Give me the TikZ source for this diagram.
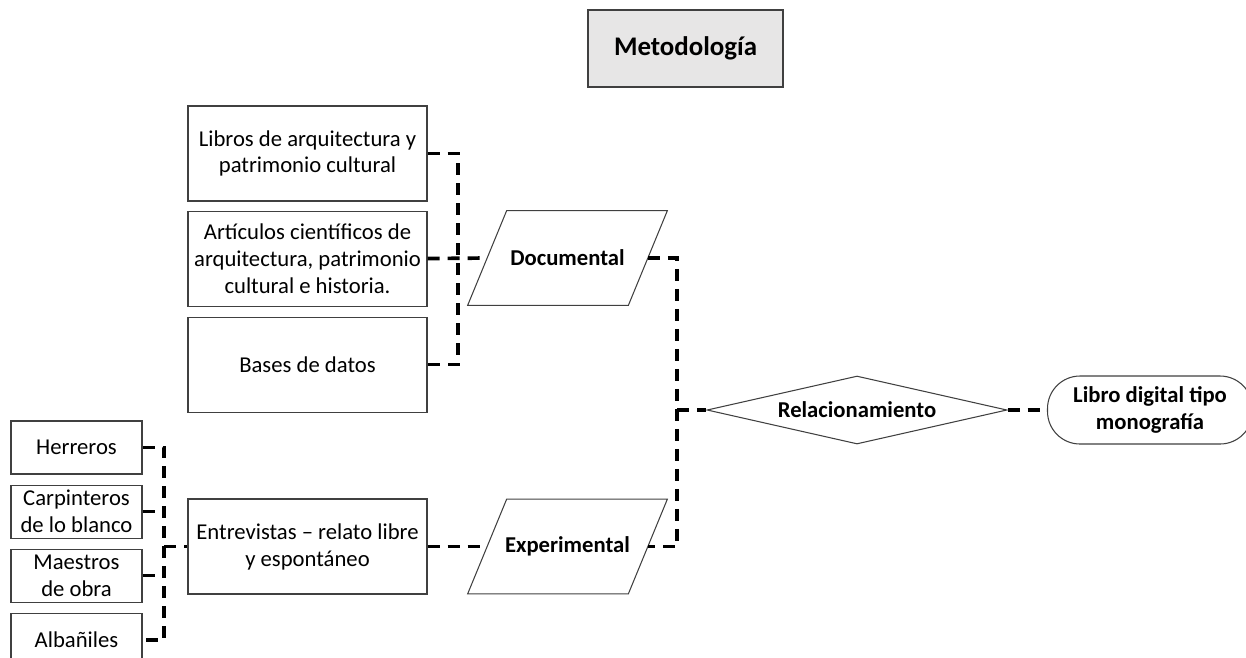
\documentclass[tikz,border=0pt]{standalone}
\usepackage{fontspec}
\setmainfont{Carlito}
\usepackage{tikz}
\usetikzlibrary{positioning,shapes.geometric,calc}
\definecolor{borde}{RGB}{64,64,64}
\definecolor{gristit}{RGB}{231,230,230}

\begin{document}
\begin{tikzpicture}[
      x=0.2mm, y=-0.2mm,
      font=\fontsize{12.9}{15.3}\selectfont,
      caja/.style={draw=borde, line width=0.6pt, fill=white, align=center, inner sep=1pt},
      fuente/.style={caja, minimum width=47.8mm, minimum height=19mm},
      oficio/.style={caja, minimum width=26.2mm, minimum height=10.6mm},
      tipo/.style={align=center, minimum width=32mm, minimum height=18.8mm,
                   font=\fontsize{12.9}{15.3}\selectfont\bfseries},
      enlace/.style={line width=2.1pt, dash pattern=on 2.4mm off 1.6mm},
]

\useasboundingbox (0,0) rectangle (1246,657);
\clip (0,0) rectangle (1246,657);

\node[caja, fill=gristit, minimum width=39mm, minimum height=15.4mm,
      font=\fontsize{15.3}{18}\selectfont\bfseries] (titulo) at (685.5,48.5) {Metodología};

% fuentes documentales
\node[fuente] (libros) at (307.5,153.5) {Libros de arquitectura y\\patrimonio cultural};
\node[fuente, below=1.8mm of libros] (articulos) {Artículos científicos de\\arquitectura, patrimonio\\cultural e historia.};
\node[fuente, below=2mm of articulos] (bases) {Bases de datos};

\node[tipo] (documental) at (567.5,258) {Documental};
\coordinate (docbus) at (458,258);

% oficios
\node[oficio] (herreros) at (76.5,447.5) {Herreros};
\node[oficio, below=2mm of herreros] (carpinteros) {Carpinteros\\de lo blanco};
\node[oficio, below=2mm of carpinteros] (maestros) {Maestros\\de obra};
\node[oficio, below=2mm of maestros] (albaniles) {Albañiles};

\node[fuente] (entrevistas) at (307.5,546.5) {Entrevistas – relato libre\\y espontáneo};
\node[tipo] (experimental) at (567.5,546.5) {Experimental};
\coordinate (ofbus) at (164,546.5);

% paralelogramos
\foreach \t in {documental, experimental}
  \draw[draw=borde, line width=0.6pt]
    ($(\t.south west)+(-19.5,0)$) -- ($(\t.north west)+(19.5,0)$) --
    ($(\t.north east)+(19.5,0)$) -- ($(\t.south east)+(-19.5,0)$) -- cycle;

% resultado
\node[caja, diamond, aspect=4.4, minimum width=60mm, minimum height=13.6mm, inner sep=0pt,
      font=\fontsize{12.9}{15.3}\selectfont\bfseries] (relacion) at (857,410) {Relacionamiento};
\node[caja, rounded corners=6.5mm, minimum width=41mm, minimum height=13.6mm,
      font=\fontsize{12.9}{15.3}\selectfont\bfseries] (libro) at (1150,410) {Libro digital tipo\\monografía};
\coordinate (relbus) at (677,410);

\draw[enlace] (libros.east) -| (docbus) |- (bases.east);
\draw[enlace] (articulos.east) -- (documental.west);

\draw[enlace] (herreros.east) -| (ofbus) |- (albaniles.east);
\draw[enlace] (carpinteros.east) -- (carpinteros.east -| ofbus);
\draw[enlace] (maestros.east) -- (maestros.east -| ofbus);
\draw[enlace] (ofbus) -- (entrevistas.west);
\draw[enlace] (entrevistas.east) -- (experimental.west);

\draw[enlace] (documental.east) -| (relbus) |- (experimental.east);
\draw[enlace] (relbus) -- (relacion.west);
\draw[enlace] (relacion.east) -- (libro.west);

\end{tikzpicture}
\end{document}
